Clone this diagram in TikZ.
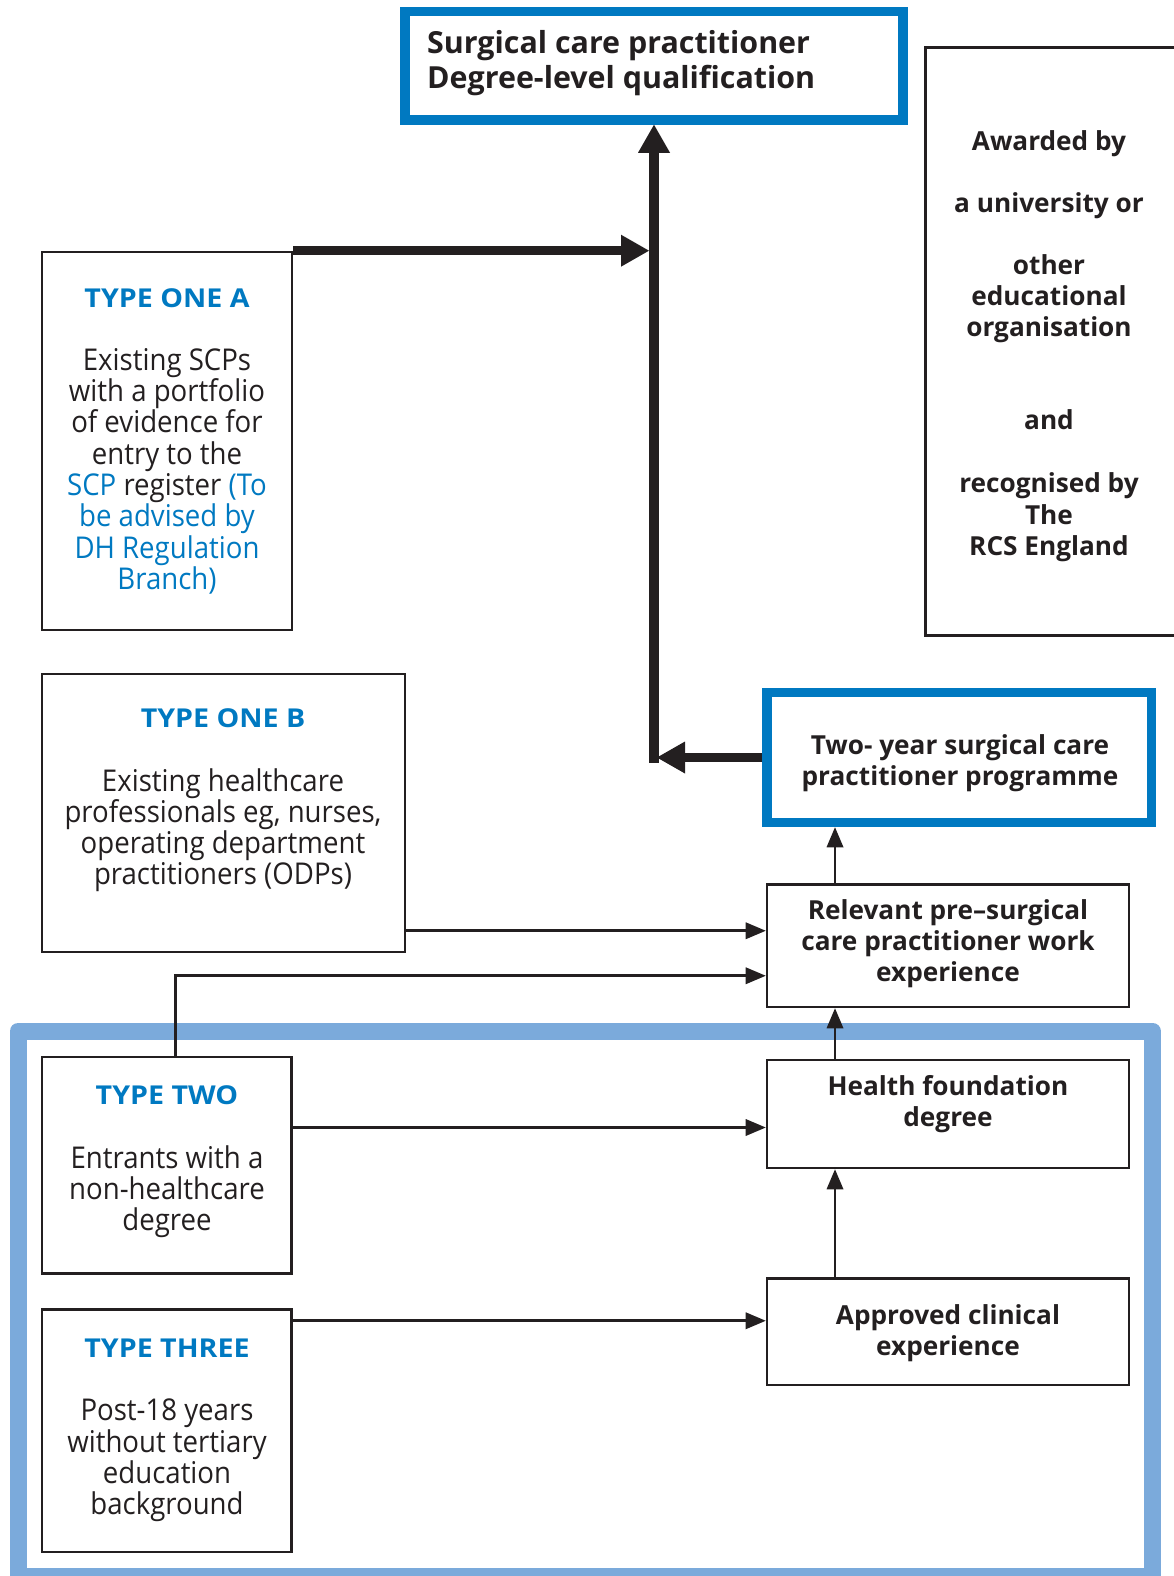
\documentclass[tikz,border=0pt]{standalone}
\usepackage{fontspec}
\setmainfont{Open Sans}
\newfontfamily\regfont{Open Sans}[FakeStretch=0.92]
\newfontfamily\titfont{Open Sans}[FakeStretch=1.1]
\usetikzlibrary{arrows.meta}
\definecolor{scpblue}{RGB}{0,121,193}
\definecolor{frameblue}{RGB}{123,170,219}
\definecolor{ink}{RGB}{35,31,32}
\tikzset{
 box/.style={draw=ink, line width=2.6pt, rectangle, inner sep=0pt},
 bluebox/.style={draw=scpblue, line width=9.5pt, rectangle, inner sep=0pt},
 body/.style={text=ink, align=center, inner sep=0pt, font=\regfont\fontsize{30}{31.3}\selectfont},
 title/.style={text=scpblue, align=center, inner sep=0pt, font=\titfont\bfseries\fontsize{26}{31.3}\selectfont},
 boxtext/.style={text=ink, align=center, inner sep=0pt, font=\bfseries\fontsize{26.2}{31.3}\selectfont},
 thinarrow/.style={draw=ink, line width=2.6pt, -{Triangle[length=20pt,width=17pt,line width=0pt]}},
 thickarrow/.style={draw=ink, line width=9.5pt, -{Triangle[length=28pt,width=32pt,line width=0pt]}},
}
\begin{document}
\begin{tikzpicture}[x=1pt,y=-1pt]
\useasboundingbox (0,0) rectangle (1173,1576);
% group frame
\draw[frameblue, line width=17pt, line join=round] (18,1031) rectangle (1152.5,1576);
% boxes
\node[bluebox, minimum width=498pt, minimum height=108.5pt] (top) at (654,65.75) {};
\node[box, minimum width=274.5pt, minimum height=588pt] (award) at (1062.75,341.5) {};
\node[box, minimum width=250pt, minimum height=378pt] (typeA) at (167,441) {};
\node[box, minimum width=363pt, minimum height=278pt] (typeB) at (223.5,813) {};
\node[box, minimum width=249.5pt, minimum height=216.5pt] (type2) at (166.75,1165.25) {};
\node[box, minimum width=249.5pt, minimum height=242.5pt] (type3) at (166.75,1430.75) {};
\node[bluebox, minimum width=384.5pt, minimum height=130pt] (two) at (959.25,757.5) {};
\node[box, minimum width=362pt, minimum height=122.5pt] (rel) at (948,945.75) {};
\node[box, minimum width=362pt, minimum height=108pt] (health) at (948,1114) {};
\node[box, minimum width=362pt, minimum height=106.5pt] (appr) at (948,1331.75) {};
% texts
\node[anchor=north west, text=ink, align=left, inner sep=0pt, font=\bfseries\fontsize{30.4}{35}\selectfont] (toptext) at (427,30.2) {Surgical care practitioner\\Degree-level qualification};
\node[boxtext, anchor=north] (awtext) at (1049,130) {Awarded by\\[31.2pt]a university or\\[30.2pt]other\\educational\\organisation\\[61.2pt]and\\[32.2pt]recognised by\\The\\RCS England};
\node[title, anchor=north] (tAt) at (167,288.4) {TYPE ONE A};
\node[body, anchor=north] (tAbody) at (167,348) {Existing SCPs\\with a portfolio\\of evidence for\\entry to the\\{\color{scpblue}SCP} register {\color{scpblue}(To}\\{\color{scpblue}be advised by}\\{\color{scpblue}DH Regulation}\\{\color{scpblue}Branch)}};
\node[title, anchor=north] (tBt) at (223,708.4) {TYPE ONE B};
\node[body, anchor=north] (tBbody) at (223,768) {Existing healthcare\\professionals eg, nurses,\\operating department\\practitioners (ODPs)};
\node[title, anchor=north] (t2t) at (167,1085.4) {TYPE TWO};
\node[body, anchor=north] (t2body) at (167,1145) {Entrants with a\\non-healthcare\\degree};
\node[title, anchor=north] (t3t) at (167,1339) {TYPE THREE};
\node[body, anchor=north] (t3body) at (167,1399) {Post-18 years\\without tertiary\\education\\background};
\node[boxtext, anchor=north] (twotext) at (960,734) {Two- year surgical care\\practitioner programme};
\node[boxtext, anchor=north] (reltext) at (948,899) {Relevant pre–surgical\\care practitioner work\\experience};
\node[boxtext, anchor=north] (healthtext) at (948,1075) {Health foundation\\degree};
\node[boxtext, anchor=north] (apprtext) at (948,1304) {Approved clinical\\experience};
% helper coordinates
\coordinate (vx) at (835,0);
\coordinate (vx1) at (649,0);
\coordinate (vx2) at (654,0);
\coordinate (vx3) at (657,0);
\coordinate (corner) at (two.west -| vx2);
\coordinate (relIn1) at ([yshift=15pt]rel.west);
\coordinate (relIn2) at ([yshift=-30pt]rel.west);
\coordinate (hIn) at ([yshift=-13.5pt]health.west);
\coordinate (aIn) at ([yshift=11pt]appr.west);
\coordinate (t2top) at ([xshift=9pt]type2.north);
% thick connectors
\draw[thickarrow] (typeA.north east) -- (typeA.north east -| vx1);
\draw[thickarrow] (two.west) -- (two.west -| vx3);
\draw[thickarrow] ([yshift=-5pt]corner) -- (top.south -| corner);
% thin connectors
\draw[thinarrow] (typeB.east |- relIn1) -- (relIn1);
\draw[thinarrow] (t2top) |- (relIn2);
\draw[thinarrow] (type2.east |- hIn) -- (hIn);
\draw[thinarrow] (type3.east |- aIn) -- (aIn);
\draw[thinarrow] (appr.north -| vx) -- (health.south -| vx);
\draw[thinarrow] (health.north -| vx) -- (rel.south -| vx);
\draw[thinarrow] (rel.north -| vx) -- (two.south -| vx);
\end{tikzpicture}
\end{document}
